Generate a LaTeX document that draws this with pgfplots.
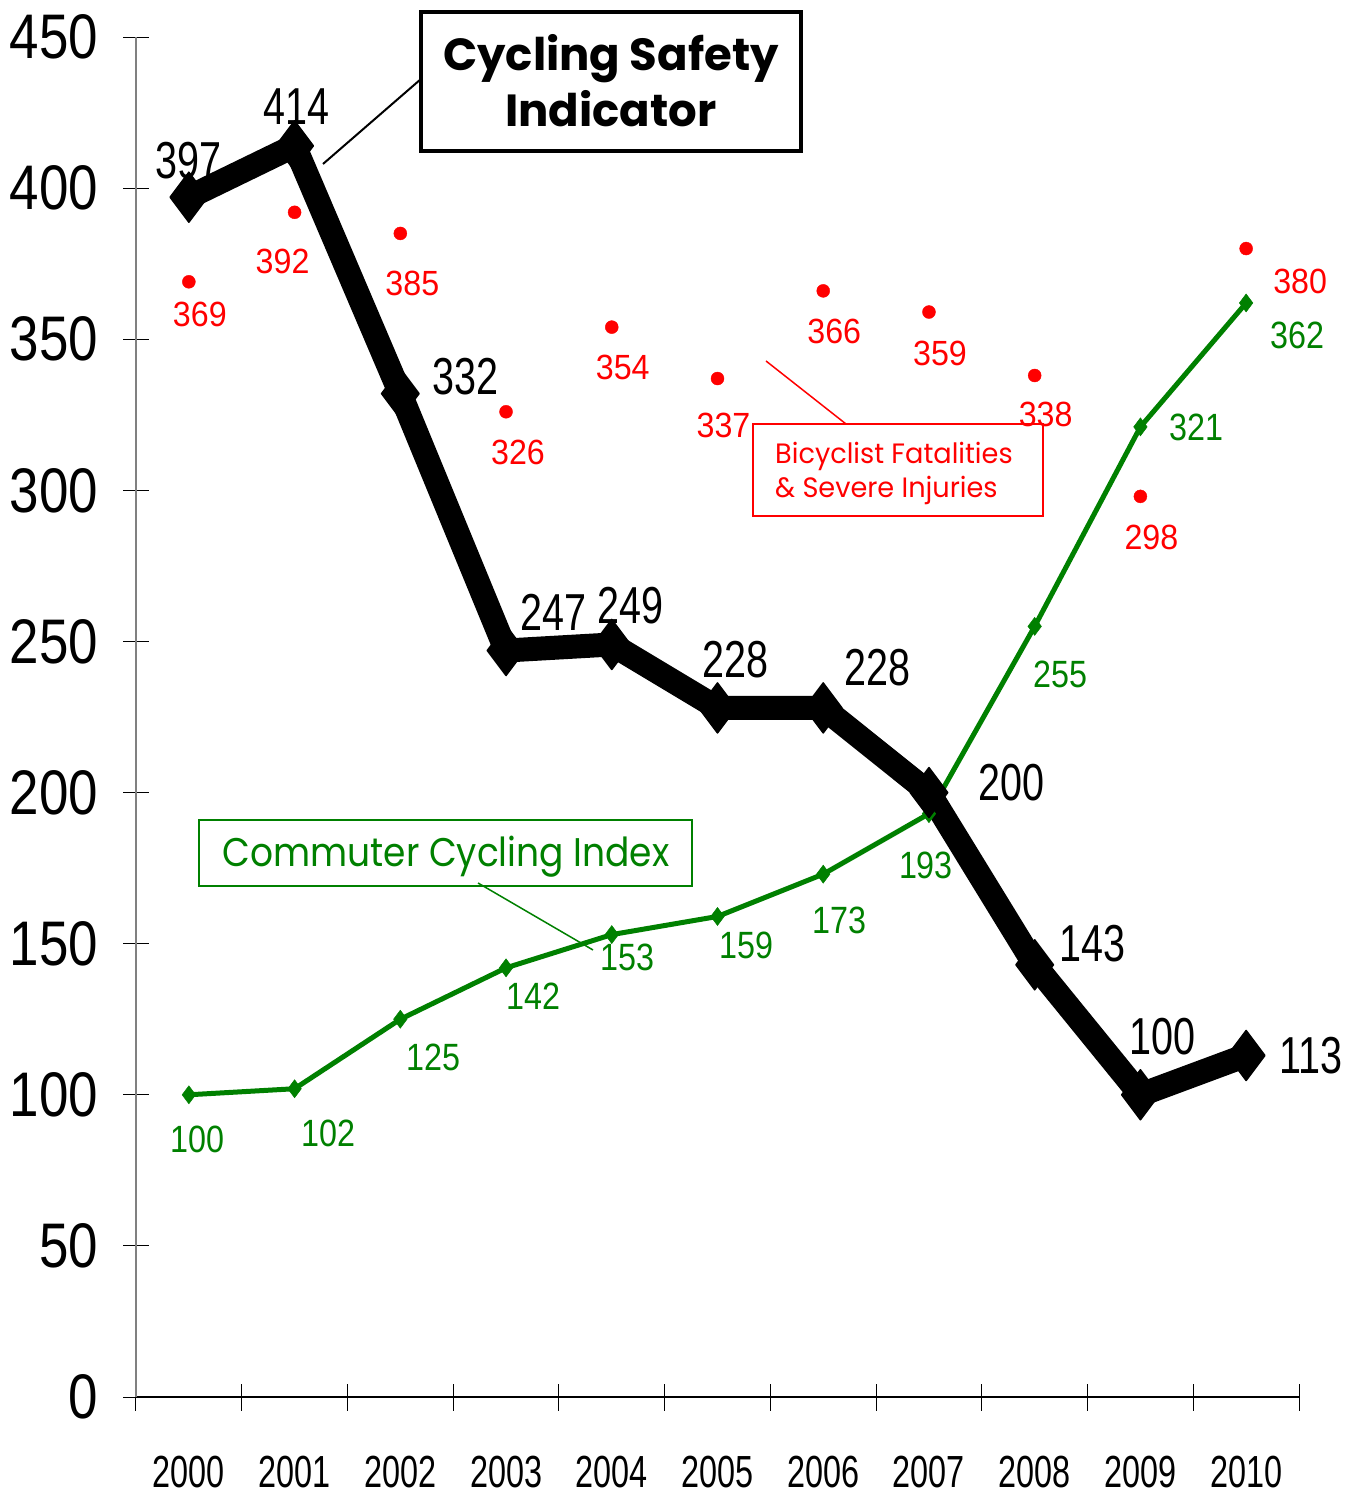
\documentclass[border=0pt]{standalone}
\usepackage{fontspec}
\setmainfont{Liberation Sans}
\newfontfamily\fx{Liberation Sans}[FakeStretch=0.72]
\newfontfamily\fy{Liberation Sans}[FakeStretch=0.84]
\newfontfamily\fb{Liberation Sans}[FakeStretch=0.76]
\newfontfamily\fr{Liberation Sans}[FakeStretch=0.92]
\newfontfamily\fg{Liberation Sans}[FakeStretch=0.85]
\newfontfamily\gothic{Poppins}
\newfontfamily\gothicg{Poppins}[FakeStretch=0.9]
\newfontfamily\gothicr{Poppins}[FakeStretch=0.97]
\usepackage{pgfplots}
\usepackage{pgfplotstable}
\pgfplotsset{compat=1.18}
\definecolor{cgreen}{RGB}{0,128,0}
\definecolor{cred}{RGB}{255,0,0}

\pgfplotstableread{
x y dx dy
0 397 0 37
1 414 2 39
2 332 65 17
3 247 47 38
4 249 19 39
5 228 18 48
6 228 54 40
7 200 83 10
8 143 58 21
9 100 22 58
10 113 65 0
}\safety

\pgfplotstableread{
x y dx dy
0 100 9 -45
1 102 34 -45
2 125 33 -38
3 142 27 -28
4 153 16 -23
5 159 29 -29
6 173 16 -46
7 193 -3 -52
8 255 26 -48
9 321 56 -1
10 362 51 -32
}\commute

\pgfplotstableread{
x y dx dy
0 369 11 -33
1 392 -12 -49
2 385 12 -50
3 326 12 -41
4 354 11 -40
5 337 6 -47
6 366 11 -41
7 359 11 -41
8 338 11 -39
9 298 11 -41
10 380 54 -33
}\fatal

\begin{document}
\begin{tikzpicture}[x=1pt,y=1pt]
\begin{axis}[
  at={(0,0)}, anchor=south west,
  scale only axis, width=1163pt, height=1360pt,
  xmin=-0.5, xmax=10.5, ymin=0, ymax=450,
  axis x line*=bottom, axis y line*=left,
  x axis line style={black, line width=1.3pt},
  y axis line style={gray, line width=1.3pt},
  /pgf/number format/assume math mode=true,
  tick align=center,
  major tick length=25pt, minor tick length=27pt,
  tick style={black, line width=1pt},
  ytick={0,50,...,450},
  yticklabel style={font=\fy\fontsize{63}{63}\selectfont, anchor=east, inner sep=0pt, xshift=-25pt},
  xtick={0,...,10},
  xticklabels={2000,2001,2002,2003,2004,2005,2006,2007,2008,2009,2010},
  major x tick style={draw=none},
  minor xtick={-0.5,0.5,...,10.5},
  minor x tick style={black, line width=1pt},
  xticklabel style={font=\fx\fontsize{45}{45}\selectfont, anchor=north, inner sep=0pt, yshift=-46pt},
  clip=false,
]
\addplot[cgreen, line width=5pt, mark=diamond*, mark size=9pt,
  mark options={solid, line width=0.5pt},
  visualization depends on={\thisrow{dx}\as\dx},
  visualization depends on={\thisrow{dy}\as\dy},
  nodes near coords,
  nodes near coords style={font=\fg\fontsize{38}{38}\selectfont, text=cgreen, anchor=center, inner sep=0pt, xshift=\dx pt, yshift=\dy pt},
] table[x=x,y=y]{\commute};
\addplot[black, line width=24pt, line join=round, mark=diamond*, mark size=25pt,
  mark options={solid, line width=1.5pt, line join=round},
  visualization depends on={\thisrow{dx}\as\dx},
  visualization depends on={\thisrow{dy}\as\dy},
  nodes near coords,
  nodes near coords style={font=\fb\fontsize{52}{52}\selectfont, text=black, anchor=center, inner sep=0pt, xshift=\dx pt, yshift=\dy pt},
] table[x=x,y=y]{\safety};
\addplot[only marks, cred, mark=*, mark size=6.5pt,
  visualization depends on={\thisrow{dx}\as\dx},
  visualization depends on={\thisrow{dy}\as\dy},
  nodes near coords,
  nodes near coords style={font=\fr\fontsize{35}{35}\selectfont, text=cred, anchor=center, inner sep=0pt, xshift=\dx pt, yshift=\dy pt},
] table[x=x,y=y]{\fatal};
\end{axis}
% Cycling Safety Indicator box
\draw[black, line width=3.5pt, fill=white] (285,1246) rectangle (665,1385);
\node[anchor=base, inner sep=0pt, font=\gothic\bfseries\fontsize{45}{45}\selectfont] at (475,1326) {Cycling Safety};
\node[anchor=base, inner sep=0pt, font=\gothic\bfseries\fontsize{45}{45}\selectfont] at (475,1270) {Indicator};
\draw[black, line width=2pt] (187,1233) -- (285,1318);
% Red box
\draw[cred, line width=2pt] (617,881) rectangle (907,973);
\node[anchor=base west, inner sep=0pt, text=cred, font=\gothicr\fontsize{28}{28}\selectfont] at (639,933) {Bicyclist Fatalities};
\node[anchor=base west, inner sep=0pt, text=cred, font=\gothicr\fontsize{28}{28}\selectfont] at (639,899) {\& Severe Injuries};
\draw[cred, line width=1.5pt] (630,1036) -- (710,973);
% Green box
\draw[cgreen, line width=2pt] (63,511) rectangle (556,577);
\node[anchor=base, inner sep=0pt, text=cgreen, font=\gothicg\fontsize{40}{40}\selectfont] at (310,530) {Commuter Cycling Index};
\draw[cgreen, line width=1.5pt] (342,514) -- (457,447);
\pgfresetboundingbox
\useasboundingbox (-136,-101) rectangle (1223,1397);
\end{tikzpicture}
\end{document}
